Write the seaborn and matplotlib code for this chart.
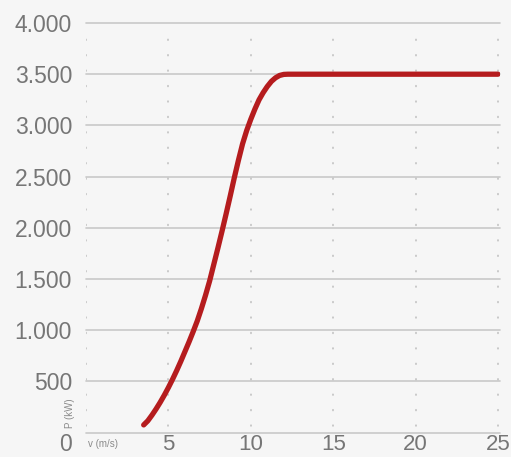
import numpy as np
import pandas as pd
import matplotlib
matplotlib.use('Agg')
import matplotlib.pyplot as plt
import matplotlib.transforms as mtransforms
from matplotlib.ticker import FuncFormatter
import seaborn as sns

# power curve (v in m/s, P in kW)
wind = [3.5, 3.75, 4.0, 4.25, 4.5, 4.75, 5.0, 5.25, 5.5, 5.75, 6.0, 6.25,
        6.5, 6.75, 7.0, 7.25, 7.5, 7.75, 8.0, 8.25, 8.5, 8.75, 9.0, 9.25,
        9.5, 9.75, 10.0, 10.25, 10.5, 10.75, 11.0, 11.25, 11.5, 11.75,
        12.0, 12.25, 12.5, 15.0, 20.0, 25.0]
power = [75, 115, 170, 230, 295, 365, 440, 520, 605, 695, 790, 885,
         985, 1090, 1210, 1340, 1480, 1640, 1800, 1965, 2135, 2310, 2490, 2660,
         2820, 2950, 3060, 3160, 3250, 3320, 3380, 3430, 3465, 3488,
         3498, 3500, 3500, 3500, 3500, 3500]
xticks = [5, 10, 15, 20, 25]
yticks = [0, 500, 1000, 1500, 2000, 2500, 3000, 3500, 4000]

df = pd.DataFrame({'v': wind, 'P': power})

sns.set_style('white')
plt.rcParams['font.family'] = ['Liberation Sans', 'DejaVu Sans']

fig = plt.figure(figsize=(5.11, 4.57), dpi=100, facecolor='#f6f6f6')
ax = fig.add_axes([86/511, 1 - 432.6/457, 414/511, 409.6/457])
ax.set_facecolor('none')

# grid
for yv in yticks:
    ax.axhline(yv, color='#c9c9c9', lw=1.2, zorder=1, clip_on=False)
for xv in [0] + xticks:
    ax.plot([xv, xv], [60, 3960], color='#bcbcbc', lw=1.1,
            ls=(0, (0.6, 9.5)), dash_capstyle='round', zorder=1)

sns.lineplot(data=df, x='v', y='P', ax=ax, color='#b51c1e', lw=3.8,
             solid_capstyle='round', zorder=3)

ax.set_xlim(0, 25.12)
ax.set_ylim(0, 4000)
ax.set_xticks(xticks)
ax.set_yticks(yticks)
ax.yaxis.set_major_formatter(FuncFormatter(lambda v, p: f'{int(v):,}'.replace(',', '.')))
ax.tick_params(axis='both', length=0, labelsize=16.5, labelcolor='#767676')
ax.tick_params(axis='y', pad=10)
ax.tick_params(axis='x', labelsize=16, pad=1)
for s in ax.spines.values():
    s.set_visible(False)
ax.set_xlabel('')
ax.set_ylabel('')

# the "0" label sits level with the x tick labels
fig.canvas.draw()
lab0 = ax.get_yticklabels()[0]
lab0.set_transform(lab0.get_transform() +
                   mtransforms.ScaledTranslation(0, -9.5/100, fig.dpi_scale_trans))

fig.text(70/511, 1 - 413/457, 'P (kW)', rotation=90, ha='center', va='center',
         fontsize=7, color='#8a8a8a')
fig.text(103/511, 1 - 444/457, 'v (m/s)', ha='center', va='center',
         fontsize=7, color='#8a8a8a')

fig.savefig('out.png', dpi=100, facecolor=fig.get_facecolor())
